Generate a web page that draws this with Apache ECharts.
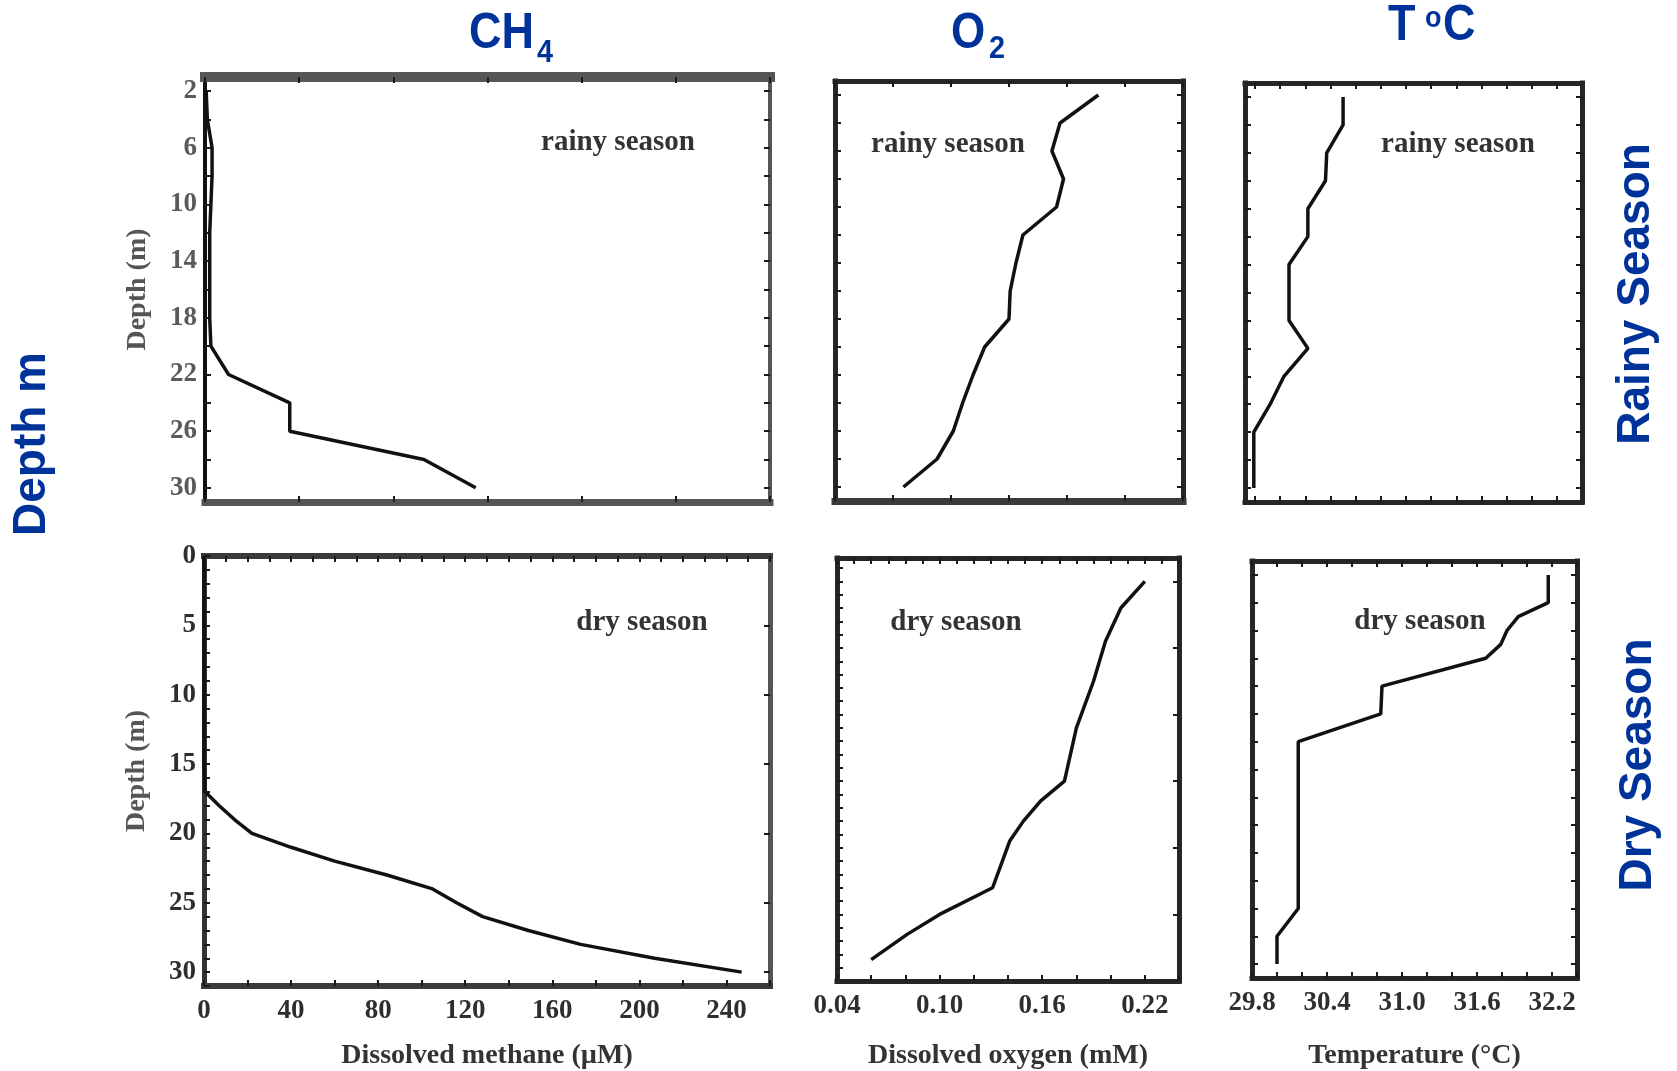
<!DOCTYPE html>
<html>
<head>
<meta charset="utf-8">
<title>CH4, O2 and temperature depth profiles</title>
<script src="https://cdn.jsdelivr.net/npm/echarts@6/dist/echarts.min.js"></script>
<style>
  html, body { margin: 0; padding: 0; background: #fff; }
  #chart { width: 1677px; height: 1071px; }
</style>
</head>
<body>
<div id="chart"></div>
<script>
// rainy season, sampled every 2 m
var rainyDepth = [2, 4, 6, 8, 10, 12, 14, 16, 18, 20, 22, 24, 26, 28, 30];
var rainyMethane = [0.5, 1, 3, 3, 2.5, 2, 2, 2, 2, 2.5, 10, 36, 36, 93, 115];
var rainyOxygen = [0.227, 0.194, 0.187, 0.197, 0.191, 0.162, 0.156, 0.151, 0.150, 0.129, 0.119, 0.110, 0.102, 0.088, 0.059];
var rainyTemp = [29.70, 29.70, 29.57, 29.56, 29.42, 29.42, 29.27, 29.27, 29.27, 29.42, 29.23, 29.12, 28.99, 28.99, 28.99];

// dry season
var dryMethaneDepth = [0, 5, 10, 15, 17, 18, 19, 20, 21, 22, 23, 24, 25, 26, 27, 28, 29, 30];
var dryMethane = [0, 0, 0, 0, 0.5, 7, 14, 22, 40, 60, 84, 105, 116, 128, 149, 173, 207, 247];
var dryOxygenDepth = [2, 4, 6.5, 9.5, 13, 17, 18.5, 20, 21.5, 25, 27, 28.5, 30.4];
var dryOxygen = [0.220, 0.206, 0.197, 0.190, 0.180, 0.173, 0.159, 0.149, 0.141, 0.131, 0.100, 0.081, 0.060];
var dryTempDepth = [2, 4, 5, 6, 7, 8, 10, 12, 14, 26, 28, 30];
var dryTemp = [32.17, 32.17, 31.93, 31.84, 31.79, 31.67, 30.84, 30.83, 30.17, 30.17, 30.0, 30.0];

// tick labels
var rainyDepthLabels = [2, 6, 10, 14, 18, 22, 26, 30];
var dryDepthLabels = [0, 5, 10, 15, 20, 25, 30];
var methaneLabels = [0, 40, 80, 120, 160, 200, 240];
var oxygenLabels = [0.04, 0.10, 0.16, 0.22];
var tempLabels = [29.8, 30.4, 31.0, 31.6, 32.2];

function steps(from, to, step) {
  var out = [];
  for (var i = 0; from + i * step <= to + 1e-9; i++) out.push(+(from + i * step).toFixed(4));
  return out;
}
function pairs(xs, ys) {
  return xs.map(function (x, i) { return [x, ys[i]]; });
}

var serif = '"Liberation Serif", "Times New Roman", serif';
var sans = '"Liberation Sans", Arial, sans-serif';
var blue = '#003399';
var dark = { c: '#262626', w: 5 };
var gray = { c: '#555', w: 7 };

var panels = [
  { box: [205, 77, 565, 425], x: [0, 240], y: [1, 31],
    xb: steps(0, 240, 40), xt: steps(0, 240, 40), yl: steps(2, 30, 2), yr: steps(2, 30, 2),
    yLabels: rainyDepthLabels, yName: 'Depth (m)', labelColor: '#5a5a5a',
    border: { top: { c: '#555', w: 10 }, bottom: gray, left: { c: '#111', w: 4 }, right: { c: '#555', w: 4 } },
    data: pairs(rainyMethane, rainyDepth) },
  { box: [835, 81, 348, 420], x: [0, 0.3], y: [1, 31],
    xb: steps(0, 0.3, 0.05), xt: steps(0, 0.3, 0.05), yl: steps(2, 30, 2), yr: steps(2, 30, 2),
    border: { top: dark, bottom: { c: '#3a3a3a', w: 7 }, left: dark, right: dark },
    data: pairs(rainyOxygen, rainyDepth) },
  { box: [1245, 83, 337, 419], x: [28.92, 31.6], y: [1, 31],
    xb: steps(29.0, 31.4, 0.2), xt: steps(29.0, 31.4, 0.2), yl: steps(2, 30, 2), yr: steps(2, 30, 2),
    border: { top: dark, bottom: dark, left: dark, right: dark },
    data: pairs(rainyTemp, rainyDepth) },
  { box: [204, 556, 566, 430], x: [0, 260], y: [0, 31],
    xb: steps(0, 260, 20), xt: steps(0, 260, 10), yl: steps(0, 31, 1), yr: steps(5, 30, 5),
    xLabels: methaneLabels, yLabels: dryDepthLabels, xName: 'Dissolved methane (\u00b5M)', yName: 'Depth (m)',
    nameGap: 56, labelColor: '#2e2e2e', digits: 0,
    border: { top: { c: '#3a3a3a', w: 6 }, bottom: { c: '#3a3a3a', w: 6 }, left: { c: '#333', w: 5 }, right: { c: '#555', w: 5 } },
    data: pairs(dryMethane, dryMethaneDepth) },
  { box: [837, 558, 342, 424], x: [0.04, 0.24], y: [0.25, 32],
    xb: steps(0.04, 0.24, 0.02), xt: steps(0.04, 0.24, 0.01), yl: steps(1, 31, 1), yr: [2, 7, 12, 17, 22, 27],
    xLabels: oxygenLabels, xName: 'Dissolved oxygen (mM)', nameGap: 61, labelColor: '#2e2e2e', digits: 2,
    border: { top: dark, bottom: dark, left: dark, right: dark },
    data: pairs(dryOxygen, dryOxygenDepth) },
  { box: [1252, 561, 325, 419], x: [29.8, 32.4], y: [1, 31],
    xb: steps(29.8, 32.4, 0.2), xt: steps(29.8, 32.4, 0.2), yl: steps(2, 30, 2), yr: steps(2, 30, 2),
    xLabels: tempLabels, xName: 'Temperature (\u00b0C)', nameGap: 64, labelColor: '#2e2e2e', digits: 1,
    border: { top: dark, bottom: dark, left: dark, right: dark },
    data: pairs(dryTemp, dryTempDepth) }
];

function makeAxis(pos, gi, range, ticks, labels, side, p, name) {
  var isY = pos === 'left' || pos === 'right';
  var a = {
    type: 'value', gridIndex: gi, position: pos, min: range[0], max: range[1], inverse: isY,
    splitLine: { show: false },
    axisLine: { show: true, onZero: false, lineStyle: { color: side.c, width: side.w, cap: 'square' } },
    axisTick: { show: true, inside: true, length: 6, customValues: ticks, lineStyle: { color: '#1a1a1a', width: 2 } },
    axisLabel: { show: false }
  };
  if (labels) {
    a.axisLabel = {
      show: true, customValues: labels, margin: isY ? 8 : 12,
      showMinLabel: true, showMaxLabel: true,
      fontFamily: serif, fontWeight: 'bold', fontSize: 27, color: p.labelColor || '#333',
      formatter: function (v) { return p.digits && !isY ? v.toFixed(p.digits) : String(v); }
    };
  }
  if (name) {
    a.name = name;
    a.nameLocation = 'middle';
    a.nameGap = isY ? 53 : (p.nameGap || 56);
    a.nameTextStyle = { fontFamily: serif, fontWeight: 'bold', fontSize: 28, color: isY ? '#555' : '#333' };
  }
  return a;
}

var grids = [], xAxes = [], yAxes = [], series = [];
panels.forEach(function (p, i) {
  grids.push({ left: p.box[0], top: p.box[1], width: p.box[2], height: p.box[3], containLabel: false });
  xAxes.push(makeAxis('bottom', i, p.x, p.xb, p.xLabels, p.border.bottom, p, p.xName));
  xAxes.push(makeAxis('top', i, p.x, p.xt, null, p.border.top, p));
  yAxes.push(makeAxis('left', i, p.y, p.yl, p.yLabels, p.border.left, p, p.yName));
  yAxes.push(makeAxis('right', i, p.y, p.yr, null, p.border.right, p));
  series.push({
    type: 'line', xAxisIndex: 2 * i, yAxisIndex: 2 * i, data: p.data,
    symbol: 'none', showSymbol: false, silent: true,
    lineStyle: { color: '#111', width: 3.5 }
  });
});

function txt(text, x, y, font, color, align, sx, rot) {
  return {
    type: 'text', x: x, y: y, scaleX: sx || 1, rotation: rot || 0, silent: true,
    style: { text: text, font: font, fill: color, align: align, verticalAlign: 'middle',
             textAlign: align, textVerticalAlign: 'middle' }
  };
}
var head = 'bold 50px ' + sans;
var sub = 'bold 32px ' + sans;
var side = 'bold 46px ' + sans;
var note = 'bold 29px ' + serif;

var graphics = [
  txt('CH', 469, 34, head, blue, 'left', 0.9),
  txt('4', 537, 53, sub, blue, 'left', 0.9),
  txt('O', 951, 34, head, blue, 'left', 0.88),
  txt('2', 989, 49, sub, blue, 'left', 0.9),
  txt('T', 1388, 26, head, blue, 'left', 0.9),
  txt('o', 1425, 19, 'bold 30px ' + sans, blue, 'left', 0.9),
  txt('C', 1443, 26, head, blue, 'left', 0.9),
  txt('Depth m', 32, 444, side, blue, 'center', 1, Math.PI / 2),
  txt('Rainy Season', 1636, 294, side, blue, 'center', 1, Math.PI / 2),
  txt('Dry Season', 1638, 765, side, blue, 'center', 1, Math.PI / 2),
  txt('rainy season', 618, 143, note, '#333', 'center'),
  txt('rainy season', 948, 145, note, '#333', 'center'),
  txt('rainy season', 1458, 145, note, '#333', 'center'),
  txt('dry season', 642, 623, note, '#333', 'center'),
  txt('dry season', 956, 623, note, '#333', 'center'),
  txt('dry season', 1420, 622, note, '#333', 'center')
];

var chart = echarts.init(document.getElementById('chart'));
chart.setOption({
  backgroundColor: '#fff',
  animation: false,
  grid: grids,
  xAxis: xAxes,
  yAxis: yAxes,
  series: series,
  graphic: graphics
});
</script>
</body>
</html>
